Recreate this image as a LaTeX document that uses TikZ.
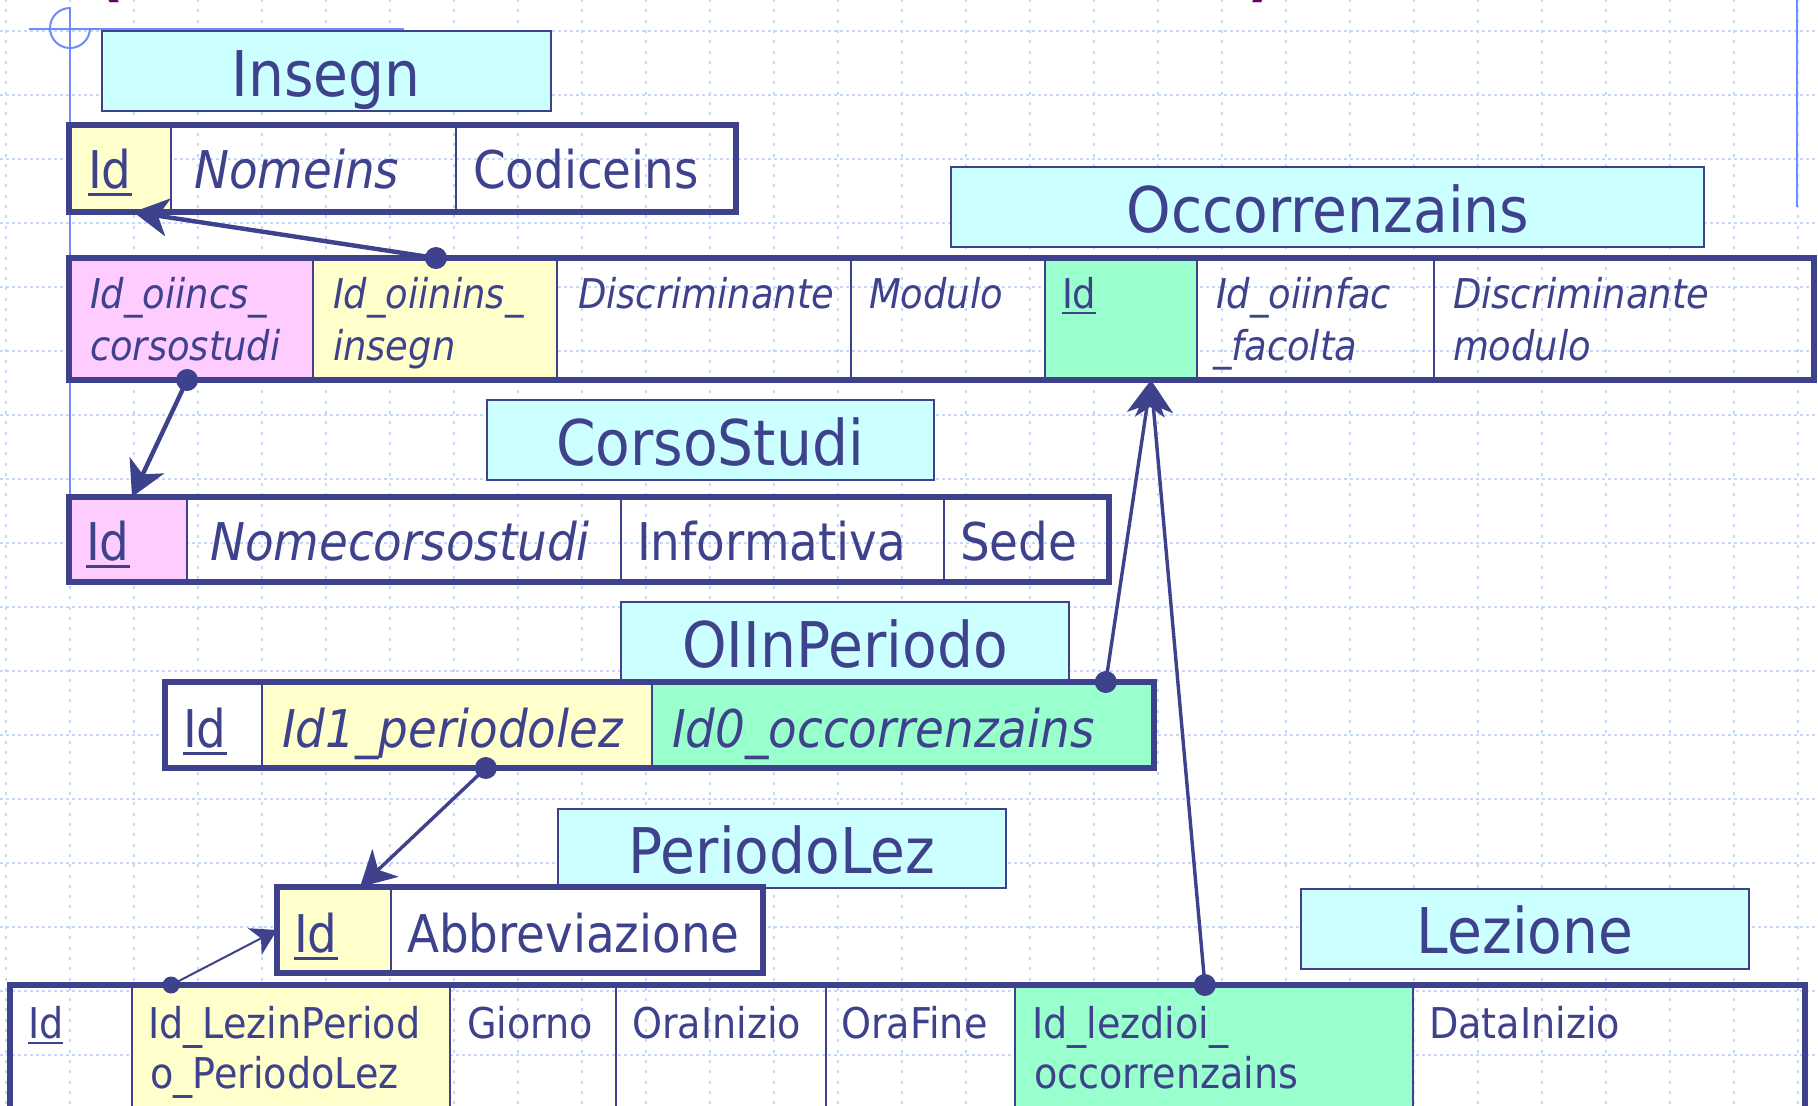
\documentclass[tikz,border=0pt]{standalone}
\usepackage{fontspec}
\setmainfont{DejaVu Sans}[FakeStretch=0.9]
\usetikzlibrary{arrows.meta,fit,calc}
\definecolor{dblue}{RGB}{62,66,140}
\definecolor{cyanf}{RGB}{204,255,255}
\definecolor{yelf}{RGB}{255,255,204}
\definecolor{pinkf}{RGB}{255,204,255}
\definecolor{greenf}{RGB}{153,255,204}
\definecolor{gridc}{RGB}{200,214,250}
\definecolor{guidec}{RGB}{110,140,245}
\definecolor{titlec}{RGB}{102,0,102}
\newcommand{\keyul}[1]{\setbox0\hbox{#1}\leavevmode\rlap{\rule[-0.15em]{\wd0}{0.055em}}\box0}
\begin{document}
\begin{tikzpicture}[x=0.5pt,y=-0.5pt,
  every node/.style={inner sep=0pt, outer sep=0pt},
  gridh/.style={draw=gridc, line width=1pt, dash pattern=on 1.6pt off 1.4pt},
  gridv/.style={draw=gridc, line width=0.9pt, dash pattern=on 1.5pt off 3.65pt, dash phase=0.5pt},
  guide/.style={draw=guidec, line width=1pt},
  ttlbox/.style={draw=dblue, line width=1pt, fill=cyanf},
  cell/.style={draw=dblue, line width=1pt},
  tframe/.style={draw=dblue, line width=2.6pt},
  ttltext/.style={anchor=base, text=dblue, font=\fontsize{31.5}{36}\selectfont},
  bigtext/.style={anchor=base west, text=dblue, font=\fontsize{26}{30}\selectfont},
  bigit/.style={bigtext, font=\fontsize{26}{30}\selectfont\itshape},
  midit/.style={anchor=base west, text=dblue, font=\fontsize{20.5}{24}\selectfont\itshape},
  midup/.style={anchor=base west, text=dblue, font=\fontsize{20.5}{24}\selectfont},
  lztext/.style={anchor=base west, text=dblue, font=\fontsize{21.2}{24}\selectfont},
  fk/.style={draw=dblue, line width=2.2pt, -{Stealth[length=17.5pt,width=19pt,inset=5pt]}},
  fkmid/.style={draw=dblue, line width=1.7pt, -{Stealth[length=17.5pt,width=19pt,inset=5pt]}},
  fkthin/.style={draw=dblue, line width=1pt, -{Stealth[length=12.5pt,width=15pt,inset=3.5pt]}}
]
\useasboundingbox (0,0) rectangle (1818,1105);
\clip (0,0) rectangle (1818,1105);
\fill[white] (0,0) rectangle (1818,1105);
% grid
\foreach \k in {0,...,16} \draw[gridh] (0,{31+64*\k}) -- (1818,{31+64*\k});
\foreach \k in {0,...,28} \draw[gridv] ({6+64*\k},0) -- ({6+64*\k},1105);
% slide guides
\draw[guide] (70,7) -- (70,497);
\draw[guide, line width=1.2pt] (29,29) -- (404,29);
\draw[guide] (90,28) arc[start angle=0, end angle=270, radius=20];
\draw[guide] (1797,0) -- (1797,207);
% clipped title fragments
\node[anchor=base, text=titlec, font=\fontsize{35}{40}\selectfont\bfseries] (tpa) at (110,-7) {(};
\node[anchor=base, text=titlec, font=\fontsize{35}{40}\selectfont\bfseries] (tpb) at (1262,-7) {)};

% ---------- title boxes (behind tables)
\node[ttlbox, fit={(102,31)(551,111)}] (hIns) {};
\node[ttltext] (hInsT) at (326,96) {Insegn};
\node[ttlbox, fit={(951,167)(1704,247)}] (hOcc) {};
\node[ttltext] (hOccT) at (1328,232) {Occorrenzains};
\node[ttlbox, fit={(487,400)(934,480)}] (hCor) {};
\node[ttltext] (hCorT) at (710,465) {CorsoStudi};
\node[ttlbox, fit={(621,602)(1069,684)}] (hOII) {};
\node[ttltext] (hOIIT) at (845,667) {OIInPeriodo};
\node[ttlbox, fit={(558,809)(1006,888)}] (hPer) {};
\node[ttltext] (hPerT) at (782,873) {PeriodoLez};
\node[ttlbox, fit={(1301,889)(1749,969)}] (hLez) {};
\node[ttltext] (hLezT) at (1525,953) {Lezione};

% ---------- Insegn table
\node[cell, fill=yelf, fit={(69,125)(171,212)}] (iId) {};
\node[cell, fit={(171,125)(456,212)}] (iNome) {};
\node[cell, fit={(456,125)(736,212)}] (iCod) {};
\node[tframe, fit={(69,125)(736,212)}] (iT) {};
\node[bigtext] (tiId) at (88,188) {\keyul{Id}};
\node[bigit] (tiNome) at (194,188) {Nomeins};
\node[bigtext] (tiCod) at (473,188) {Codiceins};

% ---------- Occorrenzains table
\node[cell, fill=pinkf, fit={(69,258)(313,380)}] (b1) {};
\node[cell, fill=yelf, fit={(313,258)(557,380)}] (b2) {};
\node[cell, fit={(557,258)(851,380)}] (b3) {};
\node[cell, fit={(851,258)(1045,380)}] (b4) {};
\node[cell, fill=greenf, fit={(1045,258)(1197,380)}] (b5) {};
\node[cell, fit={(1197,258)(1434,380)}] (b6) {};
\node[cell, fit={(1434,258)(1814,380)}] (b7) {};
\node[tframe, fit={(69,258)(1814,380)}] (bT) {};
\node[midit] (tb1a) at (90,308) {Id\_oiincs\_};
\node[midit] (tb1b) at (90,360) {corsostudi};
\node[midit] (tb2a) at (333,308) {Id\_oiinins\_};
\node[midit] (tb2b) at (333,360) {insegn};
\node[midit] (tb3) at (578,308) {Discriminante};
\node[midit] (tb4) at (869,308) {Modulo};
\node[midup] (tb5) at (1062,308) {\keyul{Id}};
\node[midit] (tb6a) at (1216,308) {Id\_oiinfac};
\node[midit] (tb6b) at (1213,360) {\_facolta};
\node[midit] (tb7a) at (1453,308) {Discriminante};
\node[midit] (tb7b) at (1453,360) {modulo};

% ---------- CorsoStudi table
\node[cell, fill=pinkf, fit={(69,497)(187,582)}] (cId) {};
\node[cell, fit={(187,497)(621,582)}] (cNome) {};
\node[cell, fit={(621,497)(944,582)}] (cInf) {};
\node[cell, fit={(944,497)(1109,582)}] (cSede) {};
\node[tframe, fit={(69,497)(1109,582)}] (cT) {};
\node[bigtext] (tcId) at (86,560) {\keyul{Id}};
\node[bigit] (tcNome) at (210,560) {Nomecorsostudi};
\node[bigtext] (tcInf) at (637,560) {Informativa};
\node[bigtext] (tcSede) at (960,560) {Sede};

% ---------- OIInPeriodo table
\node[cell, fill=white, fit={(165,682)(262,768)}] (oId) {};
\node[cell, fill=yelf, fit={(262,682)(652,768)}] (oP) {};
\node[cell, fill=greenf, fit={(652,682)(1154,768)}] (oO) {};
\node[tframe, fit={(165,682)(1154,768)}] (oT) {};
\node[bigtext] (toId) at (183,747) {\keyul{Id}};
\node[bigit] (toP) at (282,747) {Id1\_periodolez};
\node[bigit] (toO) at (672,747) {Id0\_occorrenzains};

% ---------- PeriodoLez table
\node[cell, fill=yelf, fit={(277,887)(391,973)}] (pId) {};
\node[cell, fill=white, fit={(391,887)(763,973)}] (pAb) {};
\node[tframe, fit={(277,887)(763,973)}] (pT) {};
\node[bigtext] (tpId) at (294,952) {\keyul{Id}};
\node[bigtext] (tpAb) at (407,952) {Abbreviazione};

% ---------- Lezione table
\node[cell, fit={(10,985)(132,1140)}] (l1) {};
\node[cell, fill=yelf, fit={(132,985)(450,1140)}] (l2) {};
\node[cell, fit={(450,985)(616,1140)}] (l3) {};
\node[cell, fit={(616,985)(826,1140)}] (l4) {};
\node[cell, fit={(826,985)(1015,1140)}] (l5) {};
\node[cell, fill=greenf, fit={(1015,985)(1413,1140)}] (l6) {};
\node[cell, fit={(1413,985)(1805,1140)}] (l7) {};
\node[tframe, fit={(10,985)(1805,1140)}] (lT) {};
\node[lztext] (tl1) at (28,1038) {\keyul{Id}};
\node[lztext] (tl2a) at (148,1038) {Id\_LezinPeriod};
\node[lztext] (tl2b) at (150,1088) {o\_PeriodoLez};
\node[lztext] (tl3) at (467,1038) {Giorno};
\node[lztext] (tl4) at (632,1038) {OraInizio};
\node[lztext] (tl5) at (841,1038) {OraFine};
\node[lztext] (tl6a) at (1032,1038) {Id\_lezdioi\_};
\node[lztext] (tl6b) at (1034,1088) {occorrenzains};
\node[lztext] (tl7) at (1429,1038) {DataInizio};

% ---------- connectors
\coordinate (d1) at ($(b2.north west)!0.504!(b2.north east)$);
\coordinate (e1) at ($(iId.south west)!0.63!(iId.south east)$);
\coordinate (d2) at ($(b1.south west)!0.484!(b1.south east)$);
\coordinate (e2) at ($(cId.north west)!0.534!(cId.north east)$);
\coordinate (d3) at ($(oO.north west)!0.904!(oO.north east)$);
\coordinate (e3) at ($(b5.south west)!0.697!(b5.south east)$);
\coordinate (d4) at ($(oP.south west)!0.574!(oP.south east)$);
\coordinate (e4) at ($(pId.north west)!0.728!(pId.north east)$);
\coordinate (d5) at ($(l2.north west)!0.123!(l2.north east)$);
\coordinate (d6) at ($(l6.north west)!0.477!(l6.north east)$);

\draw[fk] (d1) -- (e1);
\draw[fk] (d2) -- (e2);
\draw[fkmid] (d3) -- (e3);
\draw[fkmid] (d6) -- (e3);
\draw[fkmid] (d4) -- (e4);
\draw[fkthin] (d5) -- (pId.west);
\foreach \d in {d1,d2,d3,d4,d6} \fill[dblue] (\d) circle[radius=11];
\fill[dblue] (d5) circle[radius=8.5];
\end{tikzpicture}
\end{document}
